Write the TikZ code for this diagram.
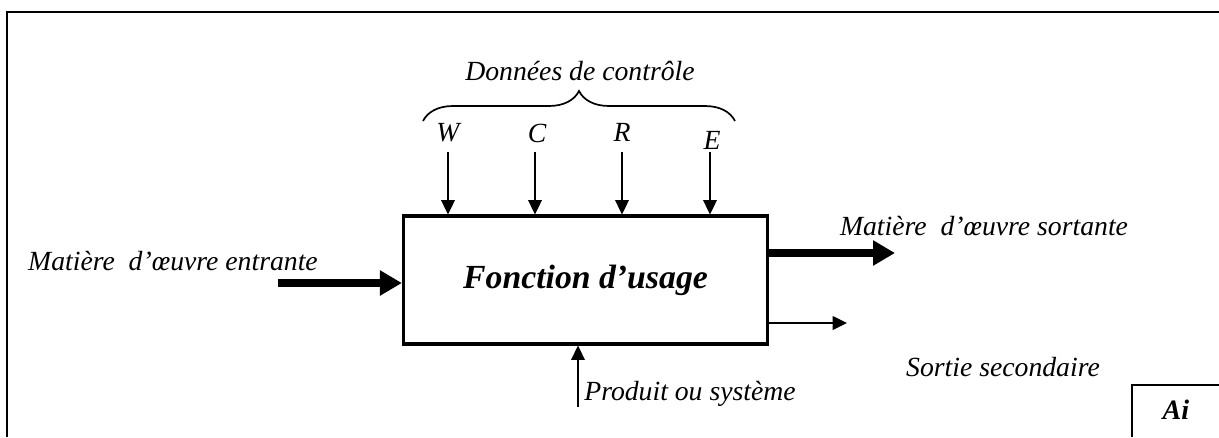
\documentclass[tikz,border=0pt]{standalone}
\usepackage{fontspec}
\setmainfont{Liberation Serif}
\usetikzlibrary{arrows.meta, decorations.pathreplacing}
\tikzstyle{label} = [inner sep=0pt, font=\fontsize{19.7}{23}\selectfont\itshape]
\tikzstyle{fonction} = [rectangle, draw=black, line width=2.2pt, minimum width=9.1cm, minimum height=3.2cm, font=\fontsize{24}{28}\selectfont\bfseries\itshape]
\tikzstyle{edge} = [line width=1.4pt, -{Triangle[length=0.36cm, width=0.34cm]}]
\tikzstyle{flux} = [line width=5.6pt, -{Triangle[length=0.55cm, width=0.6cm]}]
\tikzstyle{cadre} = [line width=1.6pt]

\begin{document}
\begin{tikzpicture}[x=0.025cm, y=-0.025cm]
\useasboundingbox (0,0) rectangle (1219,437);

\draw [cadre] (7,437) -- (7,12) -- (1219,12);
\draw [cadre] (1132,437) -- (1132,385) -- (1219,385);
\node (ai) [label, font=\fontsize{20}{24}\selectfont\bfseries\itshape] at (1176,410) {Ai};

\node (f) [fonction] at (585.5,280) {Fonction d'usage};

\node (dc) [label] at (580,71) {Données de contrôle};
\draw [line width=1.2pt, decorate, decoration={brace, amplitude=0.75cm}] (423,121) -- (735,121);

\node (w) [label] at (448,133) {W};
\node (c) [label] at (537,133) {C};
\node (r) [label] at (622,132) {R};
\node (e) [label] at (712,140) {E};

\coordinate (w0) at (448,152);
\coordinate (c0) at (535,152);
\coordinate (r0) at (622,152);
\coordinate (e0) at (710,152);

\draw [edge] (w0) -- (w0 |- f.north);
\draw [edge] (c0) -- (c0 |- f.north);
\draw [edge] (r0) -- (r0 |- f.north);
\draw [edge] (e0) -- (e0 |- f.north);

\node (me) [label] at (173,261) {Matière\ \ d'œuvre entrante};
\coordinate (in) at (278,283);
\draw [flux] (in) -- (in -| f.west);

\node (ms) [label] at (984,226) {Matière\ \ d'œuvre sortante};
\coordinate (out) at (895,253);
\draw [flux] (out -| f.east) -- (out);

\node (ss) [label] at (1003,367) {Sortie secondaire};
\coordinate (sec) at (847,323);
\draw [edge] (sec -| f.east) -- (sec);

\node (ps) [label] at (690,394) {Produit ou système};
\coordinate (prod) at (578,407);
\draw [edge] (prod) -- (prod |- f.south);

\end{tikzpicture}
\end{document}
